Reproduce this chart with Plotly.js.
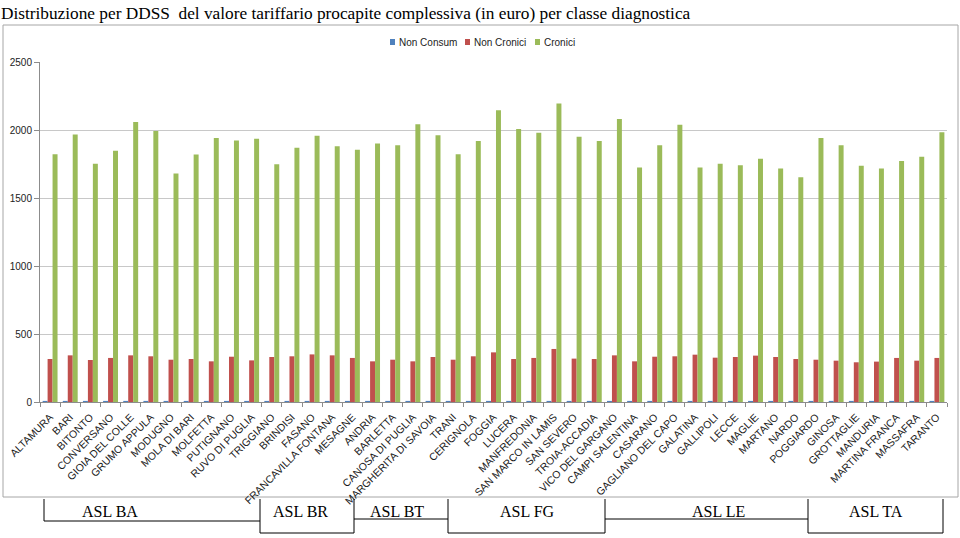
<!DOCTYPE html>
<html>
<head>
<meta charset="utf-8">
<script src="https://cdn.plot.ly/plotly-3.0.1.min.js"></script>
<style>
html,body{margin:0;padding:0;background:#fff;}
#chart{width:960px;height:538px;}
</style>
</head>
<body>
<div id="chart"></div>
<script>
const categories = [
  "ALTAMURA","BARI","BITONTO","CONVERSANO","GIOIA DEL COLLE","GRUMO APPULA","MODUGNO","MOLA DI BARI","MOLFETTA","PUTIGNANO","RUVO DI PUGLIA","TRIGGIANO",
  "BRINDISI","FASANO","FRANCAVILLA FONTANA","MESAGNE",
  "ANDRIA","BARLETTA","CANOSA DI PUGLIA","MARGHERITA DI SAVOIA","TRANI",
  "CERIGNOLA","FOGGIA","LUCERA","MANFREDONIA","SAN MARCO IN LAMIS","SAN SEVERO","TROIA-ACCADIA","VICO DEL GARGANO",
  "CAMPI SALENTINA","CASARANO","GAGLIANO DEL CAPO","GALATINA","GALLIPOLI","LECCE","MAGLIE","MARTANO","NARDO","POGGIARDO",
  "GINOSA","GROTTAGLIE","MANDURIA","MARTINA FRANCA","MASSAFRA","TARANTO"
];
const nonConsum = [
  8,8,8,8,8,8,8,8,8,8,8,8,
  8,8,8,8,
  8,8,8,8,8,
  8,8,8,8,8,8,8,8,
  8,8,8,8,8,8,8,8,8,8,
  8,8,8,8,8,8
];
const nonCronici = [
  316,343,309,324,343,336,311,316,299,333,306,331,
  336,350,343,324,
  299,311,299,331,311,
  336,365,316,324,390,319,316,343,
  299,333,336,348,326,331,341,331,316,311,
  304,292,297,324,304,324
];
const cronici = [
  1821,1966,1752,1848,2059,1993,1681,1819,1941,1922,1936,1748,
  1870,1958,1880,1855,
  1900,1887,2042,1961,1821,
  1919,2145,2007,1980,2194,1951,1919,2081,
  1725,1887,2039,1725,1752,1740,1789,1716,1652,1941,
  1887,1738,1716,1772,1804,1983
];
const seriesNames = ["Non Consum","Non Cronici","Cronici"];
const seriesColors = ["#4F81BD","#C0504D","#9BBB59"];
const yTicks = [0,500,1000,1500,2000,2500];
const groupLabels = ["ASL BA","ASL BR","ASL BT","ASL FG","ASL LE","ASL TA"];

// plot area in pixels
const PL = 40, PR = 947, PT = 62, PB = 402;
const px = v => (v - PL) / (PR - PL);
const py = v => (PB - v) / (PB - PT);

const narrow = "Liberation Sans Narrow, Liberation Sans, Arial, sans-serif";
const serif = "Liberation Serif, Times New Roman, serif";

const traces = [nonConsum, nonCronici, cronici].map((vals, i) => ({
  type: "bar",
  name: seriesNames[i],
  x: categories,
  y: vals,
  marker: {color: seriesColors[i]},
  showlegend: false,
  hoverinfo: "x+y+name"
}));

// bracket geometry (pixels): [x0, x1, bottom y, label center x, closed box]
const groupGeom = [
  [44, 260, 521, 110, false],
  [260, 354, 533, 300, true],
  [354, 448, 519, 397, false],
  [448, 605, 533, 527, true],
  [605, 808, 519, 718, false],
  [808, 943, 533, 876, true]
];

const shapes = [
  {type: "rect", xref: "paper", yref: "paper", x0: px(3), x1: px(958), y0: py(497), y1: py(25),
   line: {color: "#a6a6a6", width: 1}, fillcolor: "rgba(0,0,0,0)", layer: "below"}
];
groupGeom.forEach((g, i) => {
  const [x0, x1, yb, , box] = g;
  shapes.push({type: "line", xref: "paper", yref: "paper", x0: px(x0), x1: px(x1), y0: py(yb), y1: py(yb), line: {color: "#000", width: 1}});
  if (i === 0 || box) {
    shapes.push({type: "line", xref: "paper", yref: "paper", x0: px(x0), x1: px(x0), y0: py(499), y1: py(yb), line: {color: "#000", width: 1}});
  }
  if (box) {
    shapes.push({type: "line", xref: "paper", yref: "paper", x0: px(x1), x1: px(x1), y0: py(499), y1: py(yb), line: {color: "#000", width: 1}});
  }
});

const annotations = groupGeom.map((g, i) => ({
  xref: "paper", yref: "paper", x: px(g[3]), y: py(511), xanchor: "center", yanchor: "middle",
  text: groupLabels[i], showarrow: false,
  font: {family: serif, size: 16, color: "#000"}
}));

// compact custom legend (square + label), like the original
const legendX = [390, 465, 535];
seriesNames.forEach((name, i) => {
  const x = legendX[i];
  shapes.push({type: "rect", xref: "paper", yref: "paper", x0: px(x), x1: px(x + 5), y0: py(45), y1: py(39),
    line: {width: 0}, fillcolor: seriesColors[i]});
  annotations.push({xref: "paper", yref: "paper", x: px(x + 7), y: py(42), xanchor: "left", yanchor: "middle",
    text: name, showarrow: false, font: {family: narrow, size: 10, color: "#222"}});
});

const layout = {
  width: 960, height: 538,
  margin: {l: PL, r: 960 - PR, t: PT, b: 538 - PB, pad: 0},
  paper_bgcolor: "#fff", plot_bgcolor: "#fff",
  title: {
    text: "Distribuzione per DDSS  del valore tariffario procapite complessiva (in euro) per classe diagnostica",
    x: 0.001, xref: "container", xanchor: "left", y: 0.988, yref: "container", yanchor: "top",
    font: {family: serif, size: 17.3, color: "#000"}
  },
  barmode: "group",
  bargap: 0.26,
  bargroupgap: 0,
  showlegend: false,
  xaxis: {
    type: "category",
    tickangle: -45,
    tickfont: {family: narrow, size: 10.5, color: "#1a1a1a"},
    ticklabelstandoff: 4,
    showline: true, linecolor: "#8c8c8c", linewidth: 1,
    ticks: "outside", tickson: "boundaries", ticklen: 4, tickcolor: "#8c8c8c",
    showgrid: false, zeroline: false, automargin: false,
    range: [-0.5, categories.length - 0.5]
  },
  yaxis: {
    range: [0, 2500],
    tickvals: yTicks,
    ticktext: yTicks.map(String),
    tickfont: {family: narrow, size: 10, color: "#222"},
    showline: true, linecolor: "#8c8c8c", linewidth: 1,
    ticks: "outside", ticklen: 5, tickcolor: "#8c8c8c",
    showgrid: true, gridcolor: "#c8c8c8", gridwidth: 1,
    zeroline: false, automargin: false
  },
  shapes: shapes,
  annotations: annotations
};

Plotly.newPlot("chart", traces, layout, {displayModeBar: false, staticPlot: true});
</script>
</body>
</html>
